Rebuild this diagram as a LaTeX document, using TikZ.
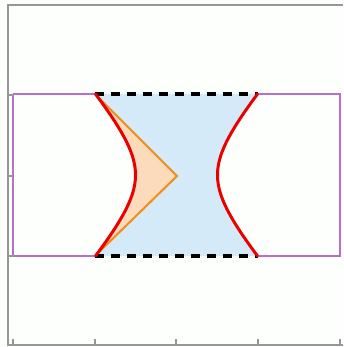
\documentclass[tikz,border=0pt]{standalone}
\definecolor{axisgray}{RGB}{150,150,150}
\definecolor{boxpurple}{RGB}{185,110,200}
\definecolor{fillblue}{RGB}{212,234,248}
\definecolor{fillpeach}{RGB}{252,218,188}
\definecolor{curvered}{RGB}{235,0,0}
\definecolor{triorange}{RGB}{245,140,20}
\begin{document}
\begin{tikzpicture}[x=1pt,y=-1pt,
  axisline/.style={draw=axisgray,line width=1.5pt},
  ticks/.style={draw=axisgray,line width=1.2pt},
  boxline/.style={draw=boxpurple,line width=1.5pt},
  curve/.style={draw=curvered,line width=3pt,line cap=round},
  triline/.style={draw=triorange,line width=2pt,line join=miter},
  dashline/.style={draw=black,line width=3.5pt,dash pattern=on 9pt off 7pt}]
\useasboundingbox (0,0) rectangle (343,347);
\fill[white!97!green!40!white] (0,0) rectangle (343,347);
% corners
\coordinate (TL) at (95,94);
\coordinate (BL) at (95,256);
\coordinate (TR) at (258,94);
\coordinate (BR) at (258,256);
\coordinate (tip) at (177,176);
% blue region
\fill[fillblue] (95,94) -- plot[domain=-81:81,samples=60,variable=\t] ({176.5+sqrt(1681+0.744*\t*\t)},{175+\t})
  -- plot[domain=81:-81,samples=60,variable=\t] ({176.5-sqrt(1681+0.744*\t*\t)},{175+\t}) -- cycle;
% peach region
\fill[fillpeach] (TL) -- (tip) -- (BL) -- plot[domain=81:-81,samples=60,variable=\t] ({176.5-sqrt(1681+0.744*\t*\t)},{175+\t}) -- cycle;
% purple box
\draw[boxline] (13,94) -- (TL);
\draw[boxline] (TR) -- (340,94) -- (340,256) -- (BR);
\draw[boxline] (BL) -- (13,256) -- (13,94);
% axes
\draw[axisline] (343,5) -- (8,5) -- (8,345) -- (343,345);
\foreach \y in {95,176,256} \draw[ticks] (8,\y) -- (14,\y);
\foreach \x in {13,95,176,258,340} \draw[ticks] (\x,345) -- (\x,339);
% triangle
\draw[triline] (TL) -- (tip) -- (BL);
% dashed lines
\draw[dashline] (TL) -- (TR);
\draw[dashline] (BL) -- (BR);
% red curves
\draw[curve] plot[domain=-81:81,samples=80,variable=\t] ({176.5-sqrt(1681+0.744*\t*\t)},{175+\t});
\draw[curve] plot[domain=-81:81,samples=80,variable=\t] ({176.5+sqrt(1681+0.744*\t*\t)},{175+\t});
\end{tikzpicture}
\end{document}
